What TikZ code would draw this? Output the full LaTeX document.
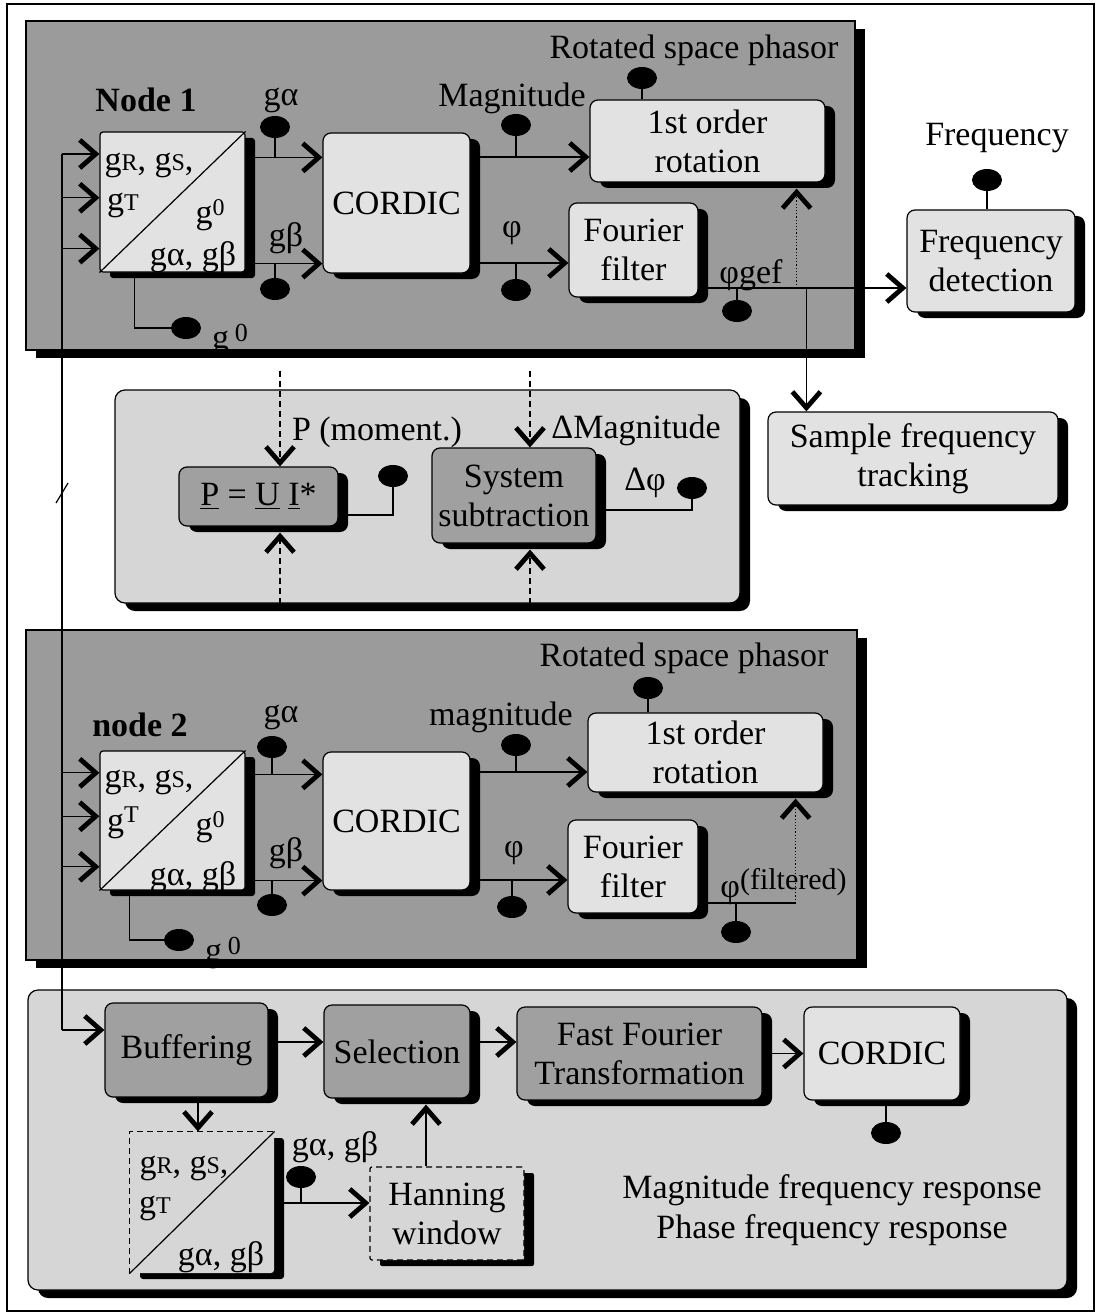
\documentclass[tikz,border=0pt]{standalone}
\usepackage{fontspec}
\setmainfont{Liberation Serif}
\usepackage{tikz}
\usetikzlibrary{arrows.meta,positioning,calc,shapes.geometric,shadows}
\definecolor{phasorgray}{RGB}{155,155,155}
\definecolor{monitorgray}{RGB}{214,214,214}
\definecolor{blocklight}{RGB}{226,226,226}
\definecolor{blockdark}{RGB}{160,160,160}
\newcommand{\gsc}[1]{g{\fontsize{12}{12}\selectfont #1}}
\newcommand{\gsup}[1]{g\raisebox{0.55ex}{\fontsize{12}{12}\selectfont #1}}

\begin{document}
\begin{tikzpicture}[
    x=0.5pt, y=-0.5pt,
    font=\fontsize{17}{19.5}\selectfont,
    panel/.style={draw=black, line width=0.6pt, inner sep=0pt,
        drop shadow={shadow xshift=5pt, shadow yshift=-4pt, fill=black, opacity=1}},
    block/.style={draw=black, line width=0.6pt, rounded corners=4pt, fill=blocklight,
        align=center, inner sep=0pt,
        drop shadow={shadow xshift=5pt, shadow yshift=-3pt, fill=black, opacity=1}},
    darkblock/.style={block, fill=blockdark},
    splitbox/.style={block, rounded corners=1.5pt},
    ball/.style={ellipse, fill=black, minimum width=15pt, minimum height=11pt, inner sep=0pt},
    lbl/.style={inner sep=0pt},
    sig/.style={line width=0.6pt, -{Straight Barb[length=8pt, width=14pt, line width=2.4pt]}},
    tap/.style={line width=0.6pt},
]
\useasboundingbox (0,0) rectangle (1099,1316);
\draw[line width=0.7pt] (7,4) rectangle (1094,1311);

% panels
\node[panel, fill=phasorgray, minimum width=414.5pt, minimum height=164.5pt] (rsp1) at (440.5,185.5) {};
\node[panel, fill=monitorgray, rounded corners=5pt, minimum width=312.5pt, minimum height=106.5pt] (mon) at (427.5,496.5) {};
\node[panel, fill=phasorgray, minimum width=415.5pt, minimum height=165pt] (rsp2) at (441.5,795) {};
\node[panel, fill=monitorgray, rounded corners=5pt, minimum width=519.5pt, minimum height=150pt] (spec) at (547.5,1140) {};
\node[lbl] (rsp1-title) at (694,50) {Rotated space phasor};
\node[lbl] (rsp2-title) at (684,658) {Rotated space phasor};

% node 1
\node[lbl] (node1-title) at (146,100) {\textbf{Node 1}};
\node[splitbox, minimum width=72.5pt, minimum height=70pt] (split1) at (172.5,202) {};
\draw[tap] (split1.south west) -- (split1.north east);
\node[lbl] (split1-rs) at (149,165) {\gsc{R}, \gsc{S},};
\node[lbl] (split1-t) at (123,205) {\gsc{T}};
\node[lbl] (split1-z) at (210,215) {\gsup{0}};
\node[lbl] (split1-ab) at (193,257) {gα, gβ};
\node[block, minimum width=73.5pt, minimum height=70pt] (cordic1) at (396.5,203) {CORDIC};
\node[block, minimum width=117.5pt, minimum height=41pt] (rot1) at (707.5,141) {1st order\\rotation};
\node[block, minimum width=64.5pt, minimum height=47pt] (fourier1) at (633.5,250) {Fourier\\filter};
\node[block, minimum width=84pt, minimum height=51pt] (freqdet) at (991,261) {Frequency\\detection};
\node[block, minimum width=145pt, minimum height=46.5pt] (sampletrack) at (913,458.5) {Sample frequency\\tracking};

% monitoring
\node[darkblock, minimum width=79.5pt, minimum height=29.5pt] (pbox) at (258.5,496.5) {\underline{P} = \underline{U} \underline{I}*};
\node[darkblock, minimum width=82pt, minimum height=47.5pt] (subtr) at (514,495.5) {System\\subtraction};

% node 2
\node[lbl] (node2-title) at (140,725) {\textbf{node 2}};
\node[splitbox, minimum width=72.5pt, minimum height=69.5pt] (split2) at (172.5,820.5) {};
\draw[tap] (split2.south west) -- (split2.north east);
\node[lbl] (split2-rs) at (149,782) {\gsc{R}, \gsc{S},};
\node[lbl] (split2-t) at (123,823) {\gsup{T}};
\node[lbl] (split2-z) at (210,827) {\gsup{0}};
\node[lbl] (split2-ab) at (193,877) {gα, gβ};
\node[block, minimum width=73.5pt, minimum height=69pt] (cordic2) at (396.5,821) {CORDIC};
\node[block, minimum width=117.5pt, minimum height=39.5pt] (rot2) at (705.5,752.5) {1st order\\rotation};
\node[block, minimum width=65pt, minimum height=46.5pt] (fourier2) at (633,866.5) {Fourier\\filter};

% spectrum
\node[darkblock, minimum width=81.5pt, minimum height=47pt] (buffer) at (186.5,1050) {Buffering};
\node[darkblock, minimum width=73pt, minimum height=46.5pt] (select) at (397,1051.5) {Selection};
\node[darkblock, minimum width=122.5pt, minimum height=46.5pt] (fft) at (639.5,1053.5) {Fast Fourier\\Transformation};
\node[block, minimum width=78pt, minimum height=46.5pt] (cordic3) at (882,1053.5) {CORDIC};
\node[splitbox, draw=none, fill=monitorgray, minimum width=72pt, minimum height=70.5pt] (split3) at (202,1202.5) {};
\draw[tap, densely dashed] (split3.south west) |- (split3.north east);
\draw[tap] (split3.south west) -- (split3.north east);
\node[lbl] (split3-rs) at (184,1168) {\gsc{R}, \gsc{S},};
\node[lbl] (split3-t) at (155,1208) {\gsc{T}};
\node[lbl] (split3-ab) at (221,1257) {gα, gβ};
\node[block, densely dashed, rounded corners=1pt, fill=monitorgray, minimum width=77pt, minimum height=46.5pt] (hanning) at (447,1213.5) {Hanning\\window};
\node[lbl, align=center] (resp) at (832,1210) {Magnitude frequency response\\[0.5pt]Phase frequency response};

% bus
\foreach \f/\n in {0.16/a,0.47/b,0.83/c} {
    \coordinate (in1\n) at ($(split1.north west)!\f!(split1.south west)$);
    \coordinate (in2\n) at ($(split2.north west)!\f!(split2.south west)$);
}
\coordinate (busBot) at (62,1030);
\coordinate (busMark) at (62,493);
\foreach \n in {a,b,c} {
    \draw[sig] (in1\n -| busBot) -- (in1\n);
    \draw[sig] (in2\n -| busBot) -- (in2\n);
}
\draw[tap] (in1a -| busBot) -- (busBot);
\draw[sig] (busBot) -- (busBot -| buffer.west);
\draw[tap] ([shift={(-3pt,-5pt)}]busMark) -- ([shift={(3pt,5pt)}]busMark);

% node 1 signals
\coordinate (ga1) at ([yshift=-12.5pt]cordic1.north west);
\coordinate (gb1) at ([yshift=5pt]cordic1.south west);
\draw[sig] (ga1 -| split1.east) -- (ga1);
\draw[sig] (gb1 -| split1.east) -- (gb1);
\node[ball] (bga1) at (275,127) {};
\node[ball] (bgb1) at (275,289) {};
\draw[tap] (bga1) -- (bga1 |- ga1);
\draw[tap] (bgb1) -- (bgb1 |- gb1);
\node[lbl] (lga1) at (281,100) {gα};
\node[lbl] (lgb1) at (286,238) {gβ};
\node[ball] (bg01) at (186,328) {};
\draw[tap] ([xshift=17.5pt]split1.south west) |- (bg01);
\node[lbl] (lg01) at (230,340) {g\,\raisebox{0.45ex}{\fontsize{13}{13}\selectfont 0}};

\coordinate (mag1) at ([yshift=-8pt]rot1.west);
\draw[sig] (mag1 -| cordic1.east) -- (mag1);
\node[ball] (bmag1) at (516,125) {};
\draw[tap] (bmag1) -- (bmag1 |- mag1);
\node[lbl] (lmag1) at (512,98) {Magnitude};
\node[ball] (brot1) at (642,78) {};
\draw[tap] (brot1) -- (brot1 |- rot1.north);

\coordinate (phi1) at ([yshift=-6.5pt]fourier1.west);
\draw[sig] (phi1 -| cordic1.east) -- (phi1);
\node[ball] (bphi1) at (516,290) {};
\draw[tap] (bphi1) -- (bphi1 |- phi1);
\node[lbl] (lphi1) at (512,233) {φ};

\coordinate (fd1) at ([yshift=-13.5pt]freqdet.west);
\draw[sig] (fd1 -| fourier1.east) -- (fd1);
\node[ball] (bgef) at (737,311) {};
\draw[tap] (bgef) -- (bgef |- fd1);
\node[lbl] (lgef) at (751,275) {φgef};
\coordinate (fb1) at ([xshift=-14.5pt,yshift=-3pt]rot1.south east);
\draw[sig, densely dotted] (fb1 |- fd1) -- (fb1);
\coordinate (st1) at ([xshift=19.5pt]sampletrack.north west);
\draw[sig] (st1 |- fd1) -- (st1);
\node[ball] (bfreq) at (987,180) {};
\draw[tap] (bfreq) -- (bfreq |- freqdet.north);
\node[lbl] (lfreq) at (997,138) {Frequency};

% monitoring signals
\coordinate (monTop) at ([yshift=-10pt]rsp1.south);
\coordinate (pin) at ([xshift=10.75pt]pbox.north);
\coordinate (pout) at ([xshift=10.75pt,yshift=-3pt]pbox.south);
\coordinate (sin) at ([xshift=8pt]subtr.north);
\coordinate (sout) at ([xshift=8pt,yshift=-3pt]subtr.south);
\draw[sig, densely dashed] (monTop -| pin) -- (pin);
\draw[sig, densely dashed] (pout |- mon.south) -- (pout);
\draw[sig, densely dashed] (monTop -| sin) -- (sin);
\draw[sig, densely dashed] (sout |- mon.south) -- (sout);
\node[lbl] (lpm) at (377,432) {P (moment.)};
\node[lbl] (ldmag) at (636,430) {ΔMagnitude};
\node[ball] (bp) at (393,476) {};
\draw[tap] ([yshift=-9.25pt]pbox.east) -| (bp);
\node[ball] (bdphi) at (692,488) {};
\draw[tap] ([yshift=-7.25pt]subtr.east) -| (bdphi);
\node[lbl] (ldphi) at (645,483) {Δφ};

% node 2 signals
\coordinate (ga2) at ([yshift=-11.5pt]cordic2.north west);
\coordinate (gb2) at ([yshift=5pt]cordic2.south west);
\draw[sig] (ga2 -| split2.east) -- (ga2);
\draw[sig] (gb2 -| split2.east) -- (gb2);
\node[ball] (bga2) at (272,747) {};
\node[ball] (bgb2) at (272,905) {};
\draw[tap] (bga2) -- (bga2 |- ga2);
\draw[tap] (bgb2) -- (bgb2 |- gb2);
\node[lbl] (lga2) at (281,717) {gα};
\node[lbl] (lgb2) at (286,853) {gβ};
\node[ball] (bg02) at (179,940) {};
\draw[tap] ([xshift=15pt]split2.south west) |- (bg02);
\node[lbl] (lg02) at (223,953) {g\,\raisebox{0.45ex}{\fontsize{13}{13}\selectfont 0}};

\coordinate (mag2) at ([yshift=-9.75pt]rot2.west);
\draw[sig] (mag2 -| cordic2.east) -- (mag2);
\node[ball] (bmag2) at (516,745) {};
\draw[tap] (bmag2) -- (bmag2 |- mag2);
\node[lbl] (lmag2) at (501,717) {magnitude};
\node[ball] (brot2) at (648,688) {};
\draw[tap] (brot2) -- (brot2 |- rot2.north);

\coordinate (phi2) at ([yshift=-6.75pt]fourier2.west);
\draw[sig] (phi2 -| cordic2.east) -- (phi2);
\node[ball] (bphi2) at (512,907) {};
\draw[tap] (bphi2) -- (bphi2 |- phi2);
\node[lbl] (lphi2) at (514,853) {φ};

\coordinate (filt) at ([yshift=-18.25pt]fourier2.east);
\coordinate (fb2) at ([xshift=-14pt,yshift=-3pt]rot2.south east);
\draw[tap] (filt) -- (filt -| fb2);
\draw[sig, densely dotted] (filt -| fb2) -- (fb2);
\node[ball] (bfilt) at (736,932) {};
\draw[tap] (bfilt) -- (bfilt |- filt);
\node[lbl, anchor=base west] (lfilt) at (720,897) {φ\raisebox{4pt}{\fontsize{15}{15}\selectfont (filtered)}};

% spectrum signals
\coordinate (sel-in) at ([yshift=4.75pt]select.west);
\draw[sig] (sel-in -| buffer.east) -- (sel-in);
\coordinate (fft-in) at ([yshift=5.75pt]fft.west);
\draw[sig] (fft-in -| select.east) -- (fft-in);
\draw[sig] (fft.east) -- (cordic3.west);
\node[ball] (bc3) at (886,1133) {};
\draw[tap] (bc3) -- (bc3 |- cordic3.south);
\coordinate (sp3in) at ([xshift=-2pt]split3.north);
\draw[sig] (sp3in |- buffer.south) -- (sp3in);
\coordinate (hw-in) at ([yshift=5.25pt]hanning.west);
\draw[sig] (hw-in -| split3.east) -- (hw-in);
\node[ball] (bgab) at (301,1177) {};
\draw[tap] (bgab) -- (bgab |- hw-in);
\node[lbl] (lgab) at (335,1147) {gα, gβ};
\coordinate (hw-out) at ([xshift=-10.5pt]hanning.north);
\coordinate (sel-bot) at ([yshift=-3pt]select.south);
\draw[sig] (hw-out) -- (sel-bot -| hw-out);
\end{tikzpicture}
\end{document}
